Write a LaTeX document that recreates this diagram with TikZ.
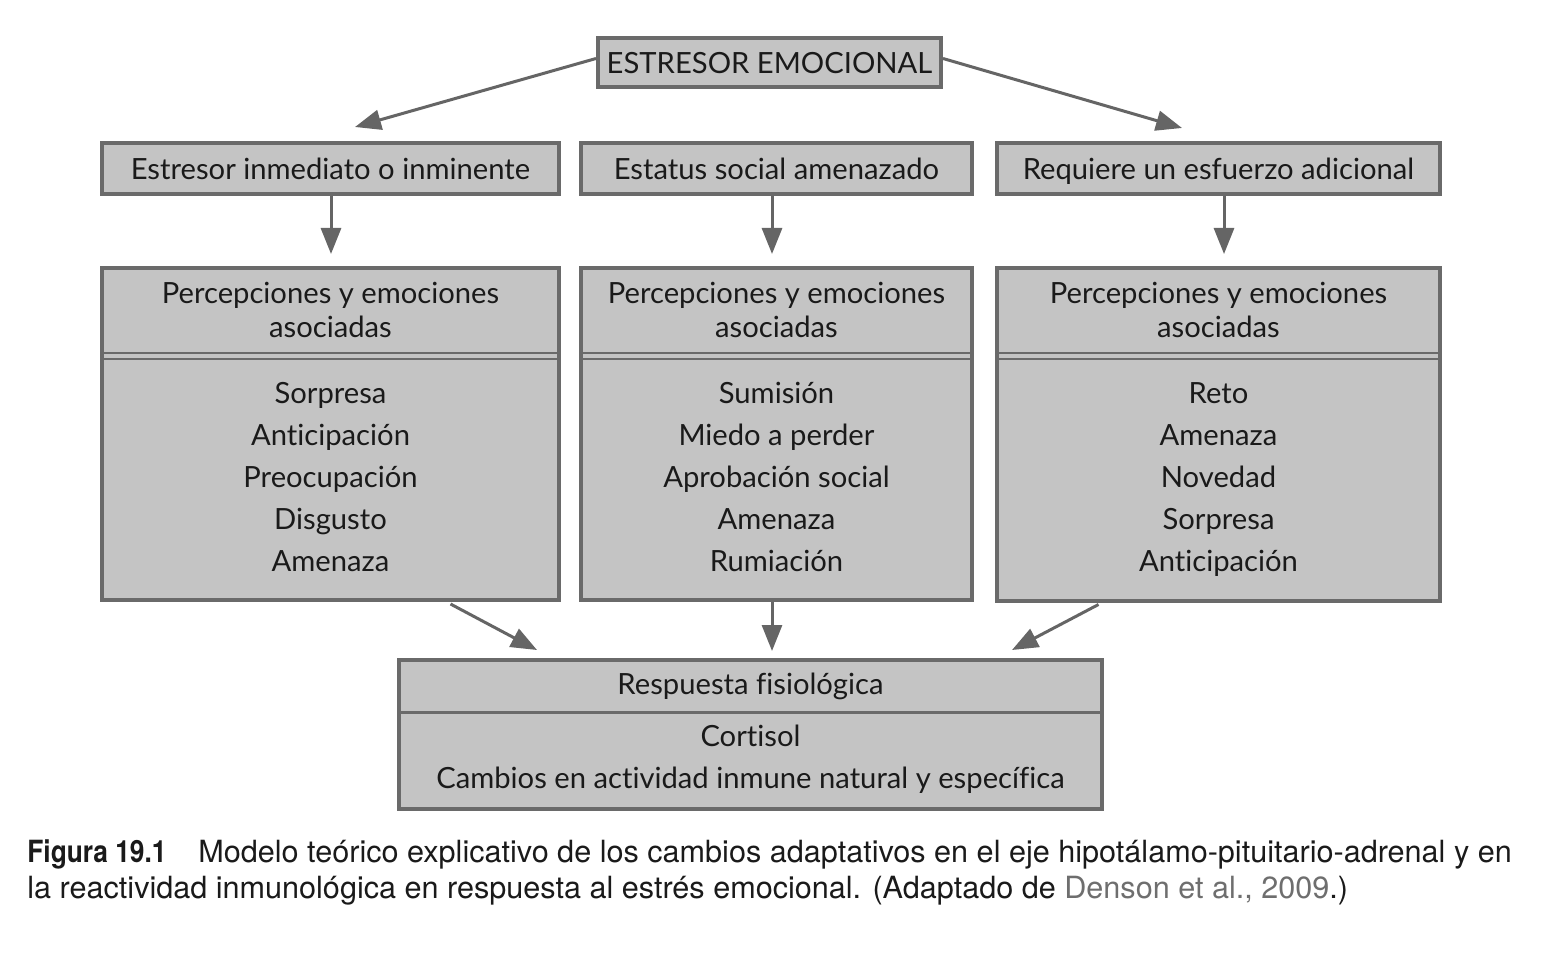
\documentclass[tikz,border=0pt]{standalone}
\usepackage{fontspec}
\setmainfont{Lato}[Ligatures=NoCommon]
\newfontfamily\leyenda{TeX Gyre Heros}
\usetikzlibrary{arrows.meta}

\definecolor{cajagris}{HTML}{C4C4C4}
\definecolor{bordegris}{HTML}{6A6A6A}
\definecolor{flechagris}{HTML}{656565}
\definecolor{tinta}{HTML}{1A1A1A}
\definecolor{citagris}{HTML}{6E6E6E}

\tikzset{
    caja/.style={draw=bordegris, line width=2pt, fill=cajagris, inner sep=0pt,
        text=tinta, font=\fontsize{14.6}{17}\selectfont, align=center,
        text height=13pt, text depth=1.5pt},
    texto/.style={text=tinta, inner sep=0pt, align=center},
    flecha/.style={draw=flechagris, line width=1.5pt,
        -{Triangle[length=13pt,width=10pt]}},
    separa/.style={draw=bordegris, line width=1.2pt},
}

\begin{document}
\begin{tikzpicture}[x=0.5pt,y=-0.5pt]
        \useasboundingbox (0,0) rectangle (1568,957);

        % Estresor principal
        \node[caja, minimum width=171.5pt, minimum height=24.5pt] (top) at (769.5,62.5) {ESTRESOR EMOCIONAL};

        % Tipos de estresor
        \node[caja, minimum width=228.5pt, minimum height=25.5pt] (e1) at (330.5,168.5) {Estresor inmediato o inminente};
        \node[caja, minimum width=195.5pt, minimum height=25.5pt] (e2) at (776.5,168.5) {Estatus social amenazado};
        \node[caja, minimum width=221.5pt, minimum height=25.5pt] (e3) at (1218.5,168.5) {Requiere un esfuerzo adicional};

        % Cajas de percepciones
        \node[caja, minimum width=228.5pt, minimum height=166pt] (p1) at (330.5,434) {};
        \node[caja, minimum width=195.5pt, minimum height=166pt] (p2) at (776.5,434) {};
        \node[caja, minimum width=221.5pt, minimum height=166pt] (p3) at (1218.5,434.5) {};
        \foreach \p in {p1,p2,p3} {
            \draw[separa] (\p.west |- 0,353) -- (\p.east |- 0,353);
            \draw[separa] (\p.west |- 0,359) -- (\p.east |- 0,359);
        }
        \node[texto, font=\fontsize{14.6}{17}\selectfont] (h1) at (330.5,310) {Percepciones y emociones\\asociadas};
        \node[texto, font=\fontsize{14.6}{17}\selectfont] (h2) at (776.5,310) {Percepciones y emociones\\asociadas};
        \node[texto, font=\fontsize{14.6}{17}\selectfont] (h3) at (1218.5,310) {Percepciones y emociones\\asociadas};
        \node[texto, font=\fontsize{14.6}{21}\selectfont] (l1) at (330.5,477) {Sorpresa\\Anticipación\\Preocupación\\Disgusto\\Amenaza};
        \node[texto, font=\fontsize{14.6}{21}\selectfont] (l2) at (776.5,477) {Sumisión\\Miedo a perder\\Aprobación social\\Amenaza\\Rumiación};
        \node[texto, font=\fontsize{14.6}{21}\selectfont] (l3) at (1218.5,480) {Reto\\Amenaza\\Novedad\\Sorpresa\\Anticipación};

        % Respuesta fisiologica
        \node[caja, minimum width=351.5pt, minimum height=74.5pt] (r) at (750.5,734.5) {};
        \draw[separa, line width=1.5pt] (r.west |- 0,712) -- (r.east |- 0,712);
        \node[texto, font=\fontsize{14.6}{17}\selectfont] (rh) at (750.5,686) {Respuesta fisiológica};
        \node[texto, font=\fontsize{14.6}{21}\selectfont] (rl) at (750.5,759) {Cortisol\\Cambios en actividad inmune natural y específica};

        % Flechas
        \coordinate (f1) at (355,127);
        \coordinate (f2) at (1182,128);
        \coordinate (f3) at (331,254);
        \coordinate (f4) at (772,254);
        \coordinate (f5) at (1224,254);
        \coordinate (g1) at (537,650);
        \coordinate (g2) at (772,651);
        \coordinate (g3) at (1012,650);
        \draw[flecha] ([yshift=2pt]top.west) -- (f1);
        \draw[flecha] ([yshift=2pt]top.east) -- (f2);
        \draw[flecha] (e1.south -| f3) -- (f3);
        \draw[flecha] (e2.south -| f4) -- (f4);
        \draw[flecha] (e3.south -| f5) -- (f5);
        \draw[flecha] ([xshift=60pt,yshift=-1pt]p1.south) -- (g1);
        \draw[flecha] (p2.south -| g2) -- (g2);
        \draw[flecha] ([xshift=-60pt,yshift=-1pt]p3.south) -- (g3);

        % Pie de figura
        \node[anchor=base west, inner sep=0pt, text=tinta, font=\leyenda\fontsize{15.3}{18}\selectfont] (fig) at (27,862) {\scalebox{0.86}[1]{\bfseries Figura 19.1}};
        \node[anchor=base west, inner sep=0pt, text=tinta, font=\leyenda\fontsize{15.3}{18}\selectfont] (c1) at (198,862) {Modelo teórico explicativo de los cambios adaptativos en el eje hipotálamo-pituitario-adrenal y en};
        \node[anchor=base west, inner sep=0pt, text=tinta, font=\leyenda\fontsize{15.3}{18}\selectfont] (c2) at (27,898) {la reactividad inmunológica en respuesta al estrés emocional. (Adaptado de \textcolor{citagris}{Denson et al., 2009}.)};
\end{tikzpicture}
\end{document}
